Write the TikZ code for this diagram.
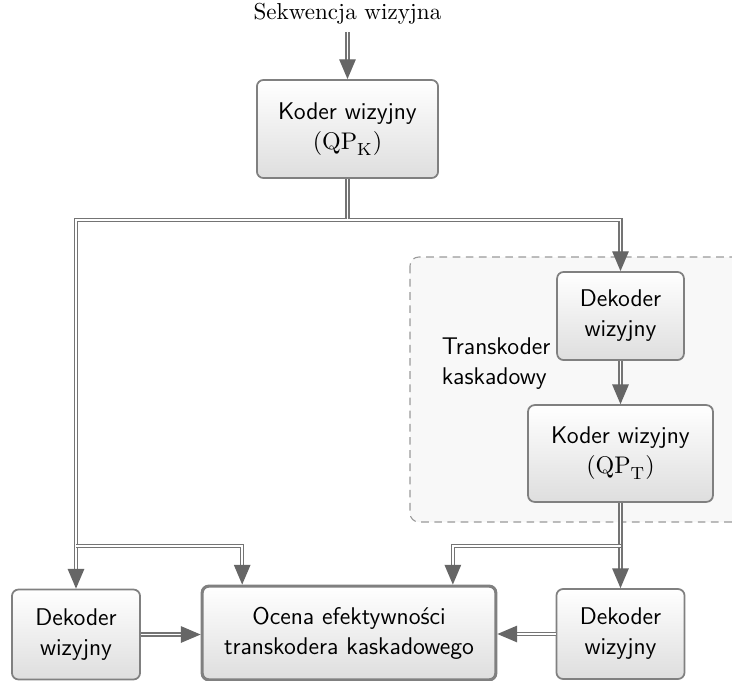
\documentclass[tikz,border=0pt]{standalone}
\usepackage{amsmath}
\usepackage{tikz}
\usetikzlibrary{
  arrows.meta,
  calc,
  positioning,
  shapes
}
\definecolor{linia}{HTML}{747474}
\definecolor{grot}{HTML}{666666}
\definecolor{ramka}{HTML}{808080}
\definecolor{tlo}{HTML}{F8F8F8}
\newcommand{\blokfont}{\sffamily\fontsize{11}{13.6}\selectfont}
\tikzset{
  blok/.style = {draw=ramka, line width=0.8pt, rounded corners=3pt,
    top color=white, bottom color=black!13, font=\blokfont,
    align=center, inner sep=2pt},
  dekoder/.style = {blok, minimum width=2.05cm, minimum height=1.44cm},
  flow/.style = {draw=linia, line width=0.6pt, double=white,
    double distance=0.9pt,
    -{Triangle[length=9pt,width=7.5pt,color=grot]}}
}

\begin{document}
\begin{tikzpicture}[x=0.016cm, y=-0.016cm]
    \useasboundingbox (0,0) rectangle (732,681);
    \clip (0,0) rectangle (732,681);

    % obszar transkodera
    \draw[ramka!80, fill=tlo, dashed, dash pattern=on 3.5pt off 2.5pt,
      rounded corners=4pt, line width=0.5pt] (410,257) rectangle (760,522);
    \node[font=\blokfont, align=left, anchor=west] (trans) at (434,364)
      {Transkoder\\kaskadowy};

    \node[font=\fontsize{10.5}{12.6}\selectfont] (sekw) at (347.5,14) {Sekwencja wizyjna};
    \node[blok, minimum width=2.9cm, minimum height=1.57cm] (koderK) at (347.5,129)
      {Koder wizyjny\\$(\mathrm{QP}_\mathrm{K})$};
    \node[dekoder, minimum width=2.03cm, minimum height=1.41cm] (dekT) at (620.5,316)
      {Dekoder\\wizyjny};
    \node[blok, minimum width=2.96cm, minimum height=1.55cm] (koderT) at (620.5,453.5)
      {Koder wizyjny\\$(\mathrm{QP}_\mathrm{T})$};
    \node[dekoder] (dekL) at (76,634.5) {Dekoder\\wizyjny};
    \node[blok, line width=1.4pt, minimum width=4.7cm, minimum height=1.5cm] (ocena)
      at (349,633) {Ocena efektywności\\transkodera kaskadowego};
    \node[dekoder] (dekP) at (620.5,634) {Dekoder\\wizyjny};

    \coordinate (rozwK) at (347.5,220);
    \coordinate (rozwL) at (76,546);
    \coordinate (rozwP) at (620.5,546);
    \coordinate (ocenaL) at ($(ocena.north west)!0.14!(ocena.north east)$);
    \coordinate (ocenaP) at ($(ocena.north west)!0.85!(ocena.north east)$);

    \draw[flow] (sekw) -- (koderK);
    \draw[flow] (koderK) -- (rozwK) -| (dekL);
    \draw[flow] (rozwK) -| (dekT);
    \draw[flow] (rozwL) -| (ocenaL);
    \draw[flow] (dekT) -- (koderT);
    \draw[flow] (koderT) -- (dekP);
    \draw[flow] (rozwP) -| (ocenaP);
    \draw[flow] (dekL.east) -- (dekL.east -| ocena.west);
    \draw[flow] (dekP.west) -- (dekP.west -| ocena.east);
\end{tikzpicture}
\end{document}
